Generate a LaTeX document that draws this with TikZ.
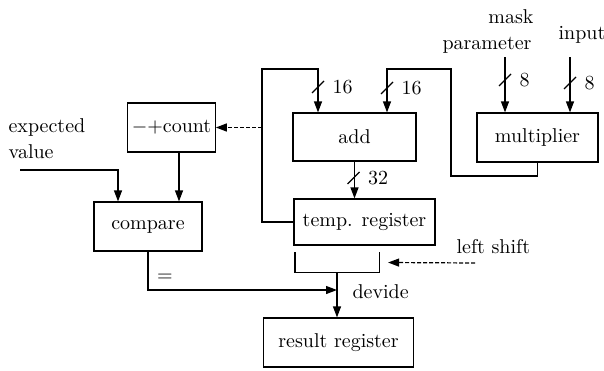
\documentclass[tikz,border=0pt]{standalone}
\usetikzlibrary{arrows.meta,calc}

\tikzset{
  blk/.style={draw, minimum width=#1, minimum height=24.5pt, inner sep=2pt},
  txt/.style={inner sep=0pt},
  arr/.style={-{Triangle[length=5.5pt,width=4pt]}},
  dasharr/.style={arr, dash pattern=on 2pt off 1pt},
}
% bus width mark: name, point on the line, width label
\newcommand{\buswidth}[3]{%
  \draw (#2) ++(-6,6) -- ++(12,-12);
  \node[txt, anchor=west] (#1) at ([xshift=7pt]#2) {#3};}

\begin{document}
\begin{tikzpicture}[x=0.5pt,y=-0.5pt,line width=0.6pt]
\useasboundingbox (0,0) rectangle (604,370);

% blocks
\node[blk=41.5pt] (count) at (171.5,127.5) {$-$+count};
\node[blk=54pt] (compare) at (148,226.5) {compare};
\node[blk=61.5pt, minimum height=24pt] (add) at (354.5,137) {add};
\node[blk=70.5pt, minimum height=23pt] (temp) at (364.5,222) {temp. register};
\node[blk=75pt] (result) at (338.5,342.5) {result register};
\node[blk=60.5pt] (mult) at (537.5,137.5) {multiplier};
\node[minimum width=41.5pt, minimum height=9.5pt, inner sep=0pt] (shift) at (337,262.5) {};

% texts
\node[txt, anchor=west] (expT) at (8,127) {expected};
\node[txt, anchor=west] (valT) at (8,152) {value};
\node[txt] (maskT) at (511,17) {mask};
\node[txt] (parT) at (487,45) {parameter};
\node[txt, anchor=west] (inT) at (558,35) {input};
\node[txt, anchor=west] (lsT) at (456,247) {left shift};
\node[txt, anchor=west] (dvT) at (352,292) {devide};
\node[txt] (eqT) at (165,278) {=};

\coordinate (fbtop) at (262,69);
\coordinate (inA) at (318,69);
\coordinate (inB) at (387,69);
\coordinate (loopB) at (451,176);
\coordinate (evL) at (20,170);
\coordinate (mskT) at (505,57);
\coordinate (inpT) at (570,57);
\coordinate (lsR) at (475,263);
\coordinate (dv) at (337,290);

% data paths
\draw[arr] (temp.west) -| (fbtop) -- (inA) -- (inA |- add.north);
\draw[arr] (mult.south) |- (loopB) |- (inB) -- (inB |- add.north);
\draw[arr] (add.south) -- (add.south |- temp.north);
\draw[arr] (mskT) -- (mskT |- mult.north);
\draw[arr] (inpT) -- (inpT |- mult.north);
\draw[dasharr] (fbtop |- count.east) -- (count.east);
\draw[arr] ([xshift=3.75pt]count.south) -- ([xshift=3.75pt]count.south |- compare.north);
\draw[arr] (evL) -| ([xshift=-15pt]compare.north);
\draw[arr] (compare.south) |- (dv);
\draw (shift.north west) |- (shift.south east) -- (shift.north east);
\draw[arr] (shift.south) -- (shift.south |- result.north);
\draw[dasharr] (lsR) -- ([xshift=4.5pt]shift.east);

% bus widths
\coordinate (bA) at (318,87);
\coordinate (bB) at (387,88);
\coordinate (bC) at (353.5,178);
\coordinate (bD) at (505,80);
\coordinate (bE) at (570,83);
\buswidth{wA}{bA}{16}
\buswidth{wB}{bB}{16}
\buswidth{wC}{bC}{32}
\buswidth{wD}{bD}{8}
\buswidth{wE}{bE}{8}

\end{tikzpicture}
\end{document}
